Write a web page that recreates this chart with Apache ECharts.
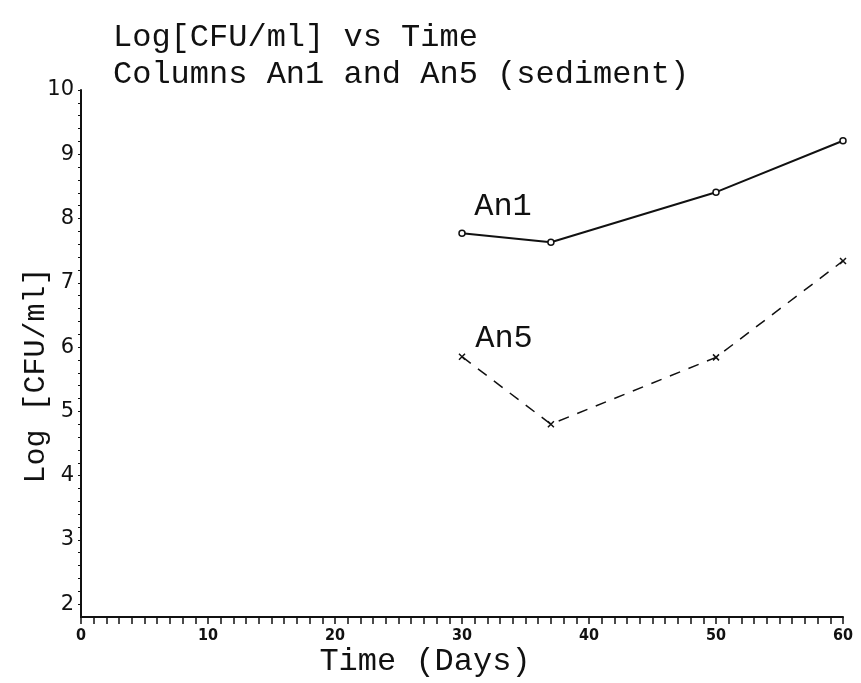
<!DOCTYPE html>
<html>
<head>
<meta charset="utf-8">
<script src="https://cdn.jsdelivr.net/npm/echarts@6/dist/echarts.min.js"></script>
<style>
html,body{margin:0;padding:0;background:#fff;}
#main{width:861px;height:683px;}
</style>
</head>
<body>
<div id="main"></div>
<script>
const titleLines = ["Log[CFU/ml] vs Time", "Columns An1 and An5 (sediment)"];
const xAxisName = "Time (Days)";
const yAxisName = "Log [CFU/ml]";
const days = [30, 37, 50, 60];
const an1 = [7.77, 7.63, 8.41, 9.21];
const an5 = [5.85, 4.80, 5.84, 7.34];
const seriesNames = ["An1", "An5"];
const yTickLabels = [2, 3, 4, 5, 6, 7, 8, 9, 10];
const xTickLabels = [0, 10, 20, 30, 40, 50, 60];

const mono = "'Liberation Mono', 'DejaVu Sans Mono', monospace";
const yMinorTicks = [];
for (let v = 2; v <= 10.001; v += 0.2) yMinorTicks.push(Math.round(v * 10) / 10);

const chart = echarts.init(document.getElementById('main'), null, {renderer: 'canvas'});

function pairs(xs, ys) { return xs.map((x, i) => [x, ys[i]]); }

const crossPath = 'path://M0,0L10,10M10,0L0,10';

chart.setOption({
  backgroundColor: '#ffffff',
  animation: false,
  title: {
    text: titleLines.join('\n'),
    left: 108,
    top: 14,
    textStyle: {fontFamily: mono, fontSize: 32, fontWeight: 'normal', color: '#111', lineHeight: 37}
  },
  grid: {left: 81, right: 18, top: 90, bottom: 63, containLabel: false},
  xAxis: {
    type: 'value', min: 0, max: 60, interval: 10,
    name: xAxisName, nameLocation: 'middle', nameGap: 29, nameMoveOverlap: false,
    nameTextStyle: {fontFamily: mono, fontSize: 32, color: '#111', padding: [0, 74, 0, 0]},
    axisLine: {show: true, onZero: false, lineStyle: {color: '#111', width: 2}},
    axisTick: {show: true, inside: false, length: 7, lineStyle: {color: '#111', width: 1.5}},
    minorTick: {show: true, splitNumber: 10, length: 7, lineStyle: {color: '#111', width: 1.5}},
    axisLabel: {
      fontFamily: "'DejaVu Sans Condensed', 'Liberation Sans Narrow', sans-serif",
      fontWeight: 'bold', fontSize: 16, color: '#111', margin: 11,
      formatter: v => xTickLabels.includes(v) ? String(v) : ''
    },
    splitLine: {show: false}, minorSplitLine: {show: false}
  },
  yAxis: {
    type: 'value', min: 1.8, max: 10,
    name: yAxisName, nameLocation: 'middle', nameGap: 30, nameRotate: 90, nameMoveOverlap: false,
    nameTextStyle: {fontFamily: mono, fontSize: 30, color: '#111', padding: [0, 44, 0, 0]},
    axisLine: {show: true, onZero: false, lineStyle: {color: '#111', width: 2}},
    axisTick: {show: true, inside: false, length: 3, customValues: yMinorTicks, lineStyle: {color: '#111', width: 1}},
    axisLabel: {
      fontFamily: "'DejaVu Sans', sans-serif", fontSize: 21, color: '#111', margin: 7,
      customValues: yTickLabels
    },
    splitLine: {show: false}
  },
  series: [
    {
      name: seriesNames[0], type: 'line',
      data: pairs(days, an1).map((p, i) => i === 0 ? {value: p, label: {show: true, formatter: seriesNames[0], position: 'top', offset: [41, -2], fontFamily: mono, fontSize: 32, color: '#111'}} : p),
      symbol: 'circle', symbolSize: 6, showSymbol: true,
      itemStyle: {color: '#fff', borderColor: '#111', borderWidth: 1.5},
      lineStyle: {color: '#111', width: 2, type: 'solid'}
    },
    {
      name: seriesNames[1], type: 'line',
      data: pairs(days, an5).map((p, i) => i === 0 ? {value: p, label: {show: true, formatter: seriesNames[1], position: 'top', offset: [42, 7], fontFamily: mono, fontSize: 32, color: '#111'}} : p),
      symbol: crossPath, symbolSize: 6, showSymbol: true,
      itemStyle: {color: 'rgba(0,0,0,0)', borderColor: '#111', borderWidth: 1.5},
      lineStyle: {color: '#111', width: 1.5, type: [11, 9]}
    }
  ]
});
</script>
</body>
</html>
